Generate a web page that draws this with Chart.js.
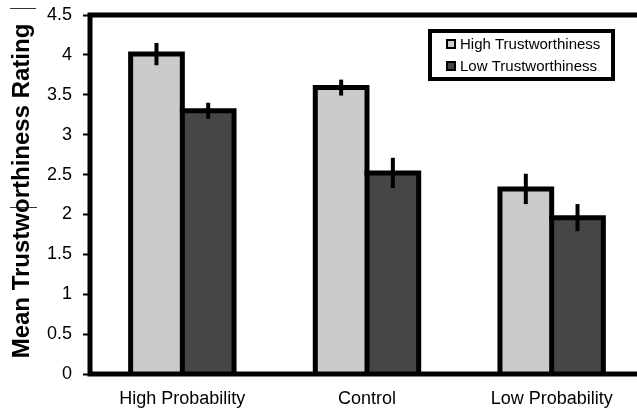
<!DOCTYPE html>
<html>
<head>
<meta charset="utf-8">
<script src="https://cdn.jsdelivr.net/npm/chart.js@4/dist/chart.umd.min.js"></script>
<style>
  html, body { margin: 0; padding: 0; background: #fff; overflow: hidden; }
  #wrap { width: 644px; height: 413px; }
</style>
</head>
<body>
<div id="wrap"><canvas id="c" width="644" height="413"></canvas></div>
<script>
// Mean trustworthiness ratings by probability condition
const categories = ['High Probability', 'Control', 'Low Probability'];
const seriesNames = ['High Trustworthiness', 'Low Trustworthiness'];
const highTrust = [4.01, 3.59, 2.32];
const lowTrust = [3.30, 2.52, 1.96];
const highTrustErr = [0.14, 0.10, 0.19];
const lowTrustErr = [0.10, 0.19, 0.17];
const yTickLabels = ['0', '0.5', '1', '1.5', '2', '2.5', '3', '3.5', '4', '4.5'];
const yAxisTitle = 'Mean Trustworthiness Rating';

const FONT = "'Liberation Sans', Arial, sans-serif";
const LIGHT = '#cbcbcb';
const DARK = '#464646';
const errors = [highTrustErr, lowTrustErr];

// Black outlines stroked on the edges of each bar (the pair shares its middle edge)
const barOutlines = {
  id: 'barOutlines',
  afterDatasetsDraw(chart) {
    const ctx = chart.ctx;
    ctx.save();
    ctx.strokeStyle = '#000';
    ctx.lineWidth = 5;
    ctx.lineJoin = 'miter';
    chart.data.datasets.forEach((ds, i) => {
      chart.getDatasetMeta(i).data.forEach(bar => {
        const { x, y, base, width } = bar.getProps(['x', 'y', 'base', 'width']);
        const l = x - width / 2, r = x + width / 2;
        ctx.beginPath();
        if (i === 0) { ctx.moveTo(l, base); ctx.lineTo(l, y); }
        else { ctx.moveTo(l - 2.5, y); }
        ctx.lineTo(r, y);
        ctx.lineTo(r, base);
        ctx.stroke();
      });
    });
    ctx.restore();
  }
};

// Vertical error bars centred on each bar's top
const errorBars = {
  id: 'errorBars',
  afterDatasetsDraw(chart) {
    const ctx = chart.ctx, y = chart.scales.y;
    ctx.save();
    ctx.strokeStyle = '#000';
    ctx.lineWidth = 4;
    chart.data.datasets.forEach((ds, i) => {
      chart.getDatasetMeta(i).data.forEach((bar, j) => {
        const v = ds.data[j], e = errors[i][j];
        ctx.beginPath();
        ctx.moveTo(bar.x, y.getPixelForValue(v + e));
        ctx.lineTo(bar.x, y.getPixelForValue(v - e));
        ctx.stroke();
      });
    });
    ctx.restore();
  }
};

// Heavy frame around the plotting area
const frame = {
  id: 'frame',
  afterDatasetsDraw(chart) {
    const { ctx, chartArea: a } = chart;
    ctx.save();
    ctx.strokeStyle = '#000';
    ctx.lineWidth = 5;
    ctx.lineCap = 'square';
    ctx.strokeRect(a.left, a.top, a.right - a.left, a.bottom - a.top);
    ctx.restore();
  }
};

// Rotated axis title plus the two short rules beside it
const axisTitle = {
  id: 'axisTitle',
  afterDraw(chart) {
    const ctx = chart.ctx;
    ctx.save();
    ctx.strokeStyle = '#333';
    ctx.lineWidth = 1;
    ctx.beginPath();
    ctx.moveTo(10, 8.5); ctx.lineTo(36, 8.5);
    ctx.moveTo(10, 207.5); ctx.lineTo(37, 207.5);
    ctx.stroke();
    ctx.translate(22, 191);
    ctx.rotate(-Math.PI / 2);
    ctx.fillStyle = '#000';
    ctx.font = 'bold 24px ' + FONT;
    ctx.textAlign = 'center';
    ctx.textBaseline = 'middle';
    ctx.fillText(yAxisTitle, 0, 0);
    ctx.restore();
  }
};

// Boxed legend in the upper right of the plot
const boxLegend = {
  id: 'boxLegend',
  afterDraw(chart) {
    const ctx = chart.ctx;
    ctx.save();
    ctx.fillStyle = '#fff';
    ctx.fillRect(430, 31, 183, 48);
    ctx.strokeStyle = '#000';
    ctx.lineWidth = 4;
    ctx.strokeRect(430, 31, 183, 48);
    ctx.font = '15px ' + FONT;
    ctx.textBaseline = 'middle';
    chart.data.datasets.forEach((ds, i) => {
      const cy = 44 + i * 22;
      ctx.fillStyle = ds.backgroundColor;
      ctx.fillRect(447, cy - 4, 8, 8);
      ctx.lineWidth = 2;
      ctx.strokeRect(447, cy - 4, 8, 8);
      ctx.fillStyle = '#000';
      ctx.fillText(ds.label, 460, cy + 1);
    });
    ctx.restore();
  }
};

new Chart(document.getElementById('c'), {
  type: 'bar',
  data: {
    labels: categories,
    datasets: [
      { label: seriesNames[0], data: highTrust, backgroundColor: LIGHT, borderWidth: 0 },
      { label: seriesNames[1], data: lowTrust, backgroundColor: DARK, borderWidth: 0 }
    ]
  },
  options: {
    responsive: false,
    animation: false,
    devicePixelRatio: 1,
    categoryPercentage: 0.56,
    barPercentage: 1.0,
    layout: { padding: { top: 15, left: 0, right: 0, bottom: 0 } },
    plugins: { legend: { display: false }, tooltip: { enabled: false } },
    scales: {
      x: {
        grid: { display: false, drawTicks: false },
        border: { display: false },
        ticks: { color: '#000', font: { family: FONT, size: 18 }, padding: 14 },
        afterFit(s) { s.height = 39; }
      },
      y: {
        min: 0,
        max: 4.5,
        grid: { drawOnChartArea: false, drawTicks: true, tickLength: 7, tickColor: '#000', tickWidth: 2 },
        border: { display: false },
        ticks: {
          stepSize: 0.5,
          color: '#000',
          font: { family: FONT, size: 18 },
          padding: 11,
          callback: (v, i) => yTickLabels[i]
        },
        afterFit(s) { s.width = 90; s.paddingTop = 0; s.paddingBottom = 0; }
      }
    }
  },
  plugins: [barOutlines, frame, errorBars, axisTitle, boxLegend]
});
</script>
</body>
</html>
